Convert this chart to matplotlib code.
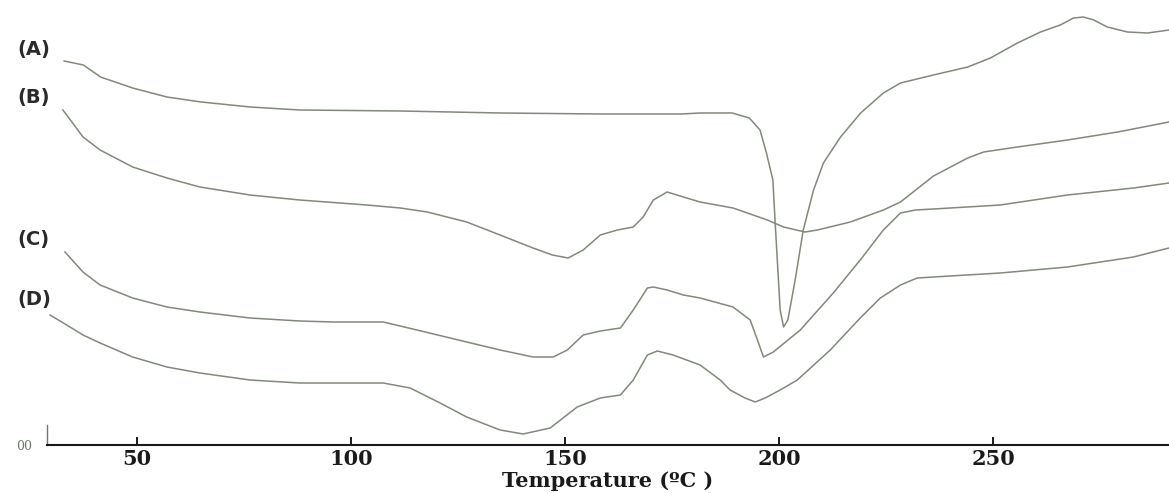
import matplotlib
matplotlib.use("Agg")
import matplotlib.pyplot as plt

# DSC thermograms, heat flow in arbitrary units
temp_a = [33, 37.5, 41.5, 49, 57, 65, 76.5, 88, 111.5, 135, 158, 177, 181.5, 189,
          193, 195.5, 197, 198.5, 199, 199.8, 200.2, 201, 202, 203.7, 205.6, 208,
          210.3, 214.3, 219, 224.3, 228.3, 236, 244, 249.3, 255.6, 261, 265.6,
          268.7, 271, 273.4, 276.6, 281.3, 286, 291]
heat_a = [384, 380, 368, 357, 348, 343, 338, 335, 334, 332, 331, 331, 332, 332,
          327, 315, 292, 265, 225, 165, 135, 118, 125, 165, 215, 255,
          282, 308, 332, 352, 362, 370, 378, 387, 402, 413, 420,
          427, 428, 425, 418, 413, 412, 415]

temp_b = [32.7, 33.6, 37.4, 41.4, 49, 57, 64.7, 76.4, 88, 103.7, 111.5, 117.8, 127,
          134.8, 142.5, 147, 150.7, 154.2, 158.2, 162.2, 165.9, 168.2, 170.6, 173.8,
          177.6, 181.5, 189.2, 197.2, 201, 206, 208.9, 216.6, 224.3, 228.3, 236,
          244, 247.7, 255.6, 267.3, 279, 291]
heat_b = [335, 330, 308, 295, 278, 267, 258, 250, 245, 240, 237, 233, 223,
          210, 197, 190, 187, 195, 210, 215, 218, 228, 245, 253,
          248, 243, 237, 225, 218, 213, 215, 223, 235, 243, 269,
          287, 293, 298, 305, 313, 323]

temp_c = [33.2, 37.4, 41.4, 49, 57, 64.7, 76.4, 88, 95.8, 107.5, 115.4, 127, 134.8,
          142.5, 147.2, 150.5, 154.2, 158.2, 162.9, 165.9, 169.2, 170.6, 173.8, 177.6,
          181.5, 189.2, 193.2, 194.9, 196.3, 198.6, 204.9, 212.6, 218.9, 224.3,
          228.3, 231.8, 236, 251.6, 267.3, 282.7, 291]
heat_c = [193, 173, 160, 147, 138, 133, 127, 124, 123, 123, 115, 103, 95,
          88, 88, 95, 110, 114, 117, 135, 157, 158, 155, 150,
          147, 138, 125, 105, 88, 93, 115, 152, 185, 215,
          232, 235, 236, 240, 250, 257, 262]

temp_d = [29.7, 33.6, 37.4, 41.4, 49, 57, 64.7, 76.4, 88, 107.5, 113.8, 120.8, 127,
          134.8, 140.2, 146.5, 152.8, 158.2, 162.9, 165.9, 169.2, 171.5, 175.2, 181.5,
          186.2, 188.5, 192, 194.4, 196.7, 200.2, 204.2, 211.9, 218.9, 223.6, 228.3,
          232.2, 236, 251.6, 267.3, 282.7, 291]
heat_d = [130, 120, 110, 102, 88, 78, 72, 65, 62, 62, 57, 42, 28,
          15, 11, 17, 38, 47, 50, 65, 90, 94, 90, 80,
          65, 55, 47, 43, 47, 55, 65, 95, 127, 147, 160,
          167, 168, 172, 178, 188, 197]

curve_labels = ["(A)", "(B)", "(C)", "(D)"]
label_y_px = [50, 97, 240, 300]
x_ticks = [50, 100, 150, 200, 250]

W, H = 1169, 493
fig = plt.figure(figsize=(W / 100, H / 100), dpi=100)
fig.patch.set_facecolor("white")
ax = fig.add_axes([47 / W, 48 / H, 1 - 47 / W, 445 / H])

line_color = "#7f8a79"
for t, h in [(temp_a, heat_a), (temp_b, heat_b), (temp_c, heat_c), (temp_d, heat_d)]:
    ax.plot(t, h, color=line_color, lw=1.1, solid_joinstyle="round")

ax.set_xlim(29, 291)
ax.set_ylim(0, 445)

for s in ["top", "right"]:
    ax.spines[s].set_visible(False)
ax.spines["bottom"].set_color("#1a1a1a")
ax.spines["bottom"].set_linewidth(1.5)
ax.spines["left"].set_color("#6d7a66")
ax.spines["left"].set_linewidth(1.0)
ax.spines["left"].set_bounds(0, 20)

ax.set_yticks([])
ax.set_xticks(x_ticks)
ax.set_xticklabels([str(v) for v in x_ticks], fontfamily="DejaVu Serif",
                   fontweight="bold", fontsize=15, color="#1a1a1a")
ax.tick_params(axis="x", direction="in", length=6, width=1.4, pad=3, colors="#1a1a1a")

ax.set_xlabel("Temperature (\u00baC )", fontfamily="DejaVu Serif", fontweight="bold",
              fontsize=15, color="#1a1a1a", labelpad=1)

for lab, py in zip(curve_labels, label_y_px):
    fig.text(17 / W, 1 - py / H, lab, ha="left", va="center", fontsize=14,
             fontweight="bold", fontfamily="DejaVu Sans", color="#2a2a2a")

fig.text(24 / W, 1 - 447 / H, "00", ha="center", va="center", fontsize=9,
         fontfamily="DejaVu Serif", color="#6d7a66")

fig.savefig("out.png", dpi=100, facecolor="white")
